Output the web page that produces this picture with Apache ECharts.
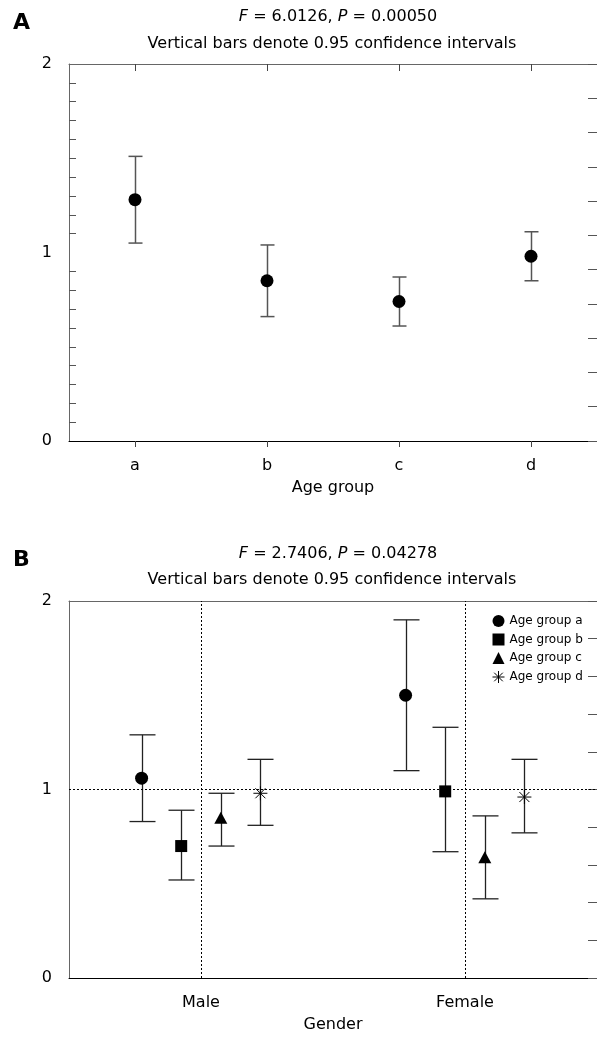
<!DOCTYPE html>
<html lang="en">
<head>
    <meta charset="UTF-8">
    <title>Confidence intervals</title>
    <script src="https://cdn.jsdelivr.net/npm/echarts@6.0.0/dist/echarts.min.js"></script>
    <style>
        body { margin: 0; background: #fff; }
        #container { width: 597px; height: 1043px; }
    </style>
</head>
<body>
<div id="container"></div>
<script type="text/javascript">
    // panel A: means by age group
    let ageGroups = ['a', 'b', 'c', 'd'];
    let meanA = [1.28, 0.85, 0.74, 0.98];
    let lowA = [1.05, 0.66, 0.61, 0.85];
    let highA = [1.51, 1.04, 0.87, 1.11];

    // panel B: means by gender, one array per age group (Male, Female)
    let genders = ['Male', 'Female'];
    let seriesNames = ['Age group a', 'Age group b', 'Age group c', 'Age group d'];
    let meanB = [[1.06, 1.50], [0.70, 0.99], [0.85, 0.64], [0.98, 0.96]];
    let lowB = [[0.83, 1.10], [0.52, 0.67], [0.70, 0.42], [0.81, 0.77]];
    let highB = [[1.29, 1.90], [0.89, 1.33], [0.98, 0.86], [1.16, 1.16]];
    let groupOffset = [-0.225, -0.075, 0.075, 0.225];

    let yTicks = [0, 1, 2];

    let font = 'DejaVu Sans';
    let symbols = ['circle', 'rect', 'triangle', 'path://M0,7L14,7M7,0L7,14M2,2L12,12M2,12L12,2'];
    let symbolSizes = [13, 12, [13, 12], 14];

    let dom = document.getElementById('container');
    let myChart = echarts.init(dom);

    // draws a vertical bar with caps between value(1) and value(2)
    let errorBar = function (capHalf, color, width) {
        return function (params, api) {
            let x = api.value(0);
            let lo = api.coord([x, api.value(1)]);
            let hi = api.coord([x, api.value(2)]);
            let px = Math.round(lo[0]) + 0.5;
            let style = { stroke: color, lineWidth: width };
            return {
                type: 'group',
                children: [
                    { type: 'line', shape: { x1: px, y1: lo[1], x2: px, y2: hi[1] }, style: style },
                    { type: 'line', shape: { x1: px - capHalf, y1: lo[1], x2: px + capHalf, y2: lo[1] }, style: style },
                    { type: 'line', shape: { x1: px - capHalf, y1: hi[1], x2: px + capHalf, y2: hi[1] }, style: style }
                ]
            };
        };
    };

    let titleRich = {
        i: { fontStyle: 'italic', fontSize: 16, fontFamily: font, color: '#000' }
    };
    let titleStyle = { fontSize: 16, fontWeight: 'normal', fontFamily: font, color: '#000', rich: titleRich };
    let letterStyle = { fontSize: 22, fontWeight: 'bold', fontFamily: font, color: '#000' };

    let barsA = [];
    let pointsA = [];
    for (let i = 0; i < ageGroups.length; i++) {
        barsA.push([i, lowA[i], highA[i]]);
        pointsA.push([i, meanA[i]]);
    }

    let series = [
        {
            type: 'custom',
            xAxisIndex: 0,
            yAxisIndex: 0,
            renderItem: errorBar(7, '#555', 1.5),
            encode: { x: 0, y: [1, 2] },
            data: barsA,
            z: 2
        },
        {
            type: 'scatter',
            xAxisIndex: 0,
            yAxisIndex: 0,
            symbol: 'circle',
            symbolSize: 13,
            itemStyle: { color: '#000', opacity: 1 },
            data: pointsA,
            z: 3
        }
    ];

    for (let g = 0; g < seriesNames.length; g++) {
        let bars = [];
        let points = [];
        for (let k = 0; k < genders.length; k++) {
            let x = k + 1 + groupOffset[g];
            bars.push([x, lowB[g][k], highB[g][k]]);
            points.push([x, meanB[g][k]]);
        }
        series.push({
            type: 'custom',
            xAxisIndex: 2,
            yAxisIndex: 2,
            renderItem: errorBar(13, '#222', 1.3),
            encode: { x: 0, y: [1, 2] },
            data: bars,
            z: 2
        });
        let isStar = g === 3;
        series.push({
            name: seriesNames[g],
            type: 'scatter',
            xAxisIndex: 2,
            yAxisIndex: 2,
            symbol: symbols[g],
            symbolSize: symbolSizes[g],
            itemStyle: isStar
                ? { color: '#000', borderColor: '#000', borderWidth: 1, opacity: 1 }
                : { color: '#000', opacity: 1 },
            data: points,
            z: 3
        });
    }

    // dotted reference lines in panel B
    series.push({
        type: 'scatter',
        xAxisIndex: 2,
        yAxisIndex: 2,
        data: [],
        markLine: {
            silent: true,
            symbol: 'none',
            label: { show: false },
            lineStyle: { color: '#000', type: [2, 2], width: 1 },
            data: [{ xAxis: 1 }, { xAxis: 2 }, { yAxis: 1 }]
        },
        z: 1
    });

    let option = {
        animation: false,
        backgroundColor: '#fff',
        textStyle: { fontFamily: font },
        title: [
            { text: 'A', left: 8, top: 7, textStyle: letterStyle },
            { text: '{i|F} = 6.0126, {i|P} = 0.00050', left: 333, top: 4, textAlign: 'center', textStyle: titleStyle },
            { text: 'Vertical bars denote 0.95 confidence intervals', left: 327, top: 31, textAlign: 'center', textStyle: titleStyle },
            { text: 'B', left: 8, top: 544, textStyle: letterStyle },
            { text: '{i|F} = 2.7406, {i|P} = 0.04278', left: 333, top: 541, textAlign: 'center', textStyle: titleStyle },
            { text: 'Vertical bars denote 0.95 confidence intervals', left: 327, top: 567, textAlign: 'center', textStyle: titleStyle }
        ],
        legend: {
            data: [
                { name: seriesNames[0] },
                { name: seriesNames[1] },
                { name: seriesNames[2] },
                { name: seriesNames[3], itemStyle: { borderWidth: 1, borderColor: '#000' } }
            ],
            orient: 'vertical',
            left: 487,
            top: 610,
            itemWidth: 12,
            itemHeight: 12,
            itemGap: 6.5,
            textStyle: { fontSize: 12, fontFamily: font, color: '#000' }
        },
        grid: [
            { left: 69, top: 64, right: -3, height: 377 },
            { left: 69, top: 601, right: -4, height: 377 }
        ],
        xAxis: [
            {
                gridIndex: 0,
                type: 'category',
                position: 'bottom',
                data: ageGroups,
                name: 'Age group',
                nameLocation: 'middle',
                nameGap: 39,
                nameTextStyle: { fontSize: 16, color: '#000', fontFamily: font },
                axisLine: { show: true, onZero: false, lineStyle: { color: '#000', width: 1 } },
                axisTick: { show: true, interval: 0, alignWithLabel: true, length: 6, lineStyle: { color: '#444' } },
                axisLabel: { fontSize: 16, color: '#000', margin: 17 },
                splitLine: { show: false }
            },
            {
                gridIndex: 0,
                type: 'category',
                position: 'top',
                data: ageGroups,
                axisLine: { show: true, onZero: false, lineStyle: { color: '#666', width: 1 } },
                axisTick: { show: true, interval: 0, alignWithLabel: true, inside: true, length: 7, lineStyle: { color: '#444' } },
                axisLabel: { show: false },
                splitLine: { show: false }
            },
            {
                gridIndex: 1,
                type: 'value',
                position: 'bottom',
                min: 0.5,
                max: 2.5,
                name: 'Gender',
                nameLocation: 'middle',
                nameGap: 39,
                nameTextStyle: { fontSize: 16, color: '#000', fontFamily: font },
                axisLine: { show: true, onZero: false, lineStyle: { color: '#000', width: 1 } },
                axisTick: { show: false },
                axisLabel: {
                    customValues: [1, 2],
                    fontSize: 16,
                    color: '#000',
                    margin: 17,
                    formatter: function (v) { return genders[Math.round(v) - 1]; }
                },
                splitLine: { show: false }
            },
            {
                gridIndex: 1,
                type: 'value',
                position: 'top',
                min: 0.5,
                max: 2.5,
                axisLine: { show: true, onZero: false, lineStyle: { color: '#666', width: 1 } },
                axisTick: { show: false },
                axisLabel: { show: false },
                splitLine: { show: false }
            }
        ],
        yAxis: [
            {
                gridIndex: 0,
                type: 'value',
                position: 'left',
                min: yTicks[0],
                max: yTicks[yTicks.length - 1],
                interval: 1,
                axisLine: { show: true, onZero: false, lineStyle: { color: '#666', width: 1 } },
                axisTick: { show: false, inside: true },
                minorTick: { show: true, splitNumber: 10, length: 7, lineStyle: { color: '#555' } },
                axisLabel: { fontSize: 16, color: '#000', margin: 17 },
                splitLine: { show: false }
            },
            {
                gridIndex: 0,
                type: 'value',
                position: 'right',
                min: 0,
                max: 11,
                interval: 1,
                axisLine: { show: true, onZero: false, lineStyle: { color: '#666' } },
                axisTick: { show: true, inside: true, length: 9, lineStyle: { color: '#555' } },
                axisLabel: { show: false },
                splitLine: { show: false }
            },
            {
                gridIndex: 1,
                type: 'value',
                position: 'left',
                min: yTicks[0],
                max: yTicks[yTicks.length - 1],
                interval: 1,
                axisLine: { show: true, onZero: false, lineStyle: { color: '#666', width: 1 } },
                axisTick: { show: false },
                axisLabel: { fontSize: 16, color: '#000', margin: 17 },
                splitLine: { show: false }
            },
            {
                gridIndex: 1,
                type: 'value',
                position: 'right',
                min: 0,
                max: 10,
                interval: 1,
                axisLine: { show: true, onZero: false, lineStyle: { color: '#666' } },
                axisTick: { show: true, inside: true, length: 9, lineStyle: { color: '#555' } },
                axisLabel: { show: false },
                splitLine: { show: false }
            }
        ],
        series: series
    };
    myChart.setOption(option);
</script>
</body>
</html>
